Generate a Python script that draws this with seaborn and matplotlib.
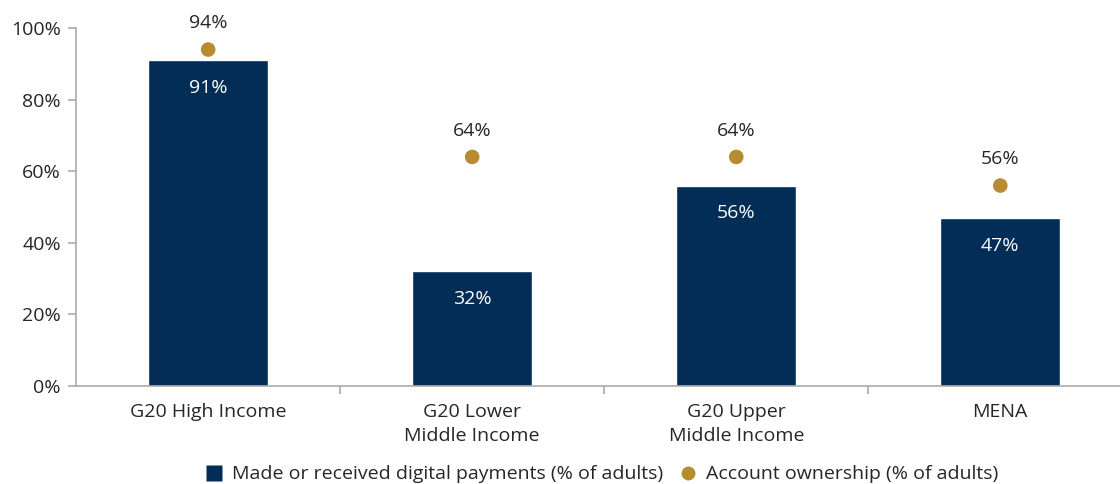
import pandas as pd
import matplotlib
matplotlib.use("Agg")
import matplotlib.pyplot as plt
import seaborn as sns
from matplotlib.lines import Line2D
from matplotlib.ticker import PercentFormatter

categories = ["G20 High Income", "G20 Lower\nMiddle Income", "G20 Upper\nMiddle Income", "MENA"]
digital_payments = [91, 32, 56, 47]
account_ownership = [94, 64, 64, 56]

NAVY = "#022d56"
GOLD = "#b78b2f"
GRID = "#aaaaaa"
TEXT = "#262626"
FS = 14

sns.set_style("white")
plt.rcParams["font.family"] = ["Open Sans", "DejaVu Sans"]

df = pd.DataFrame({
    "category": categories,
    "digital": digital_payments,
    "account": account_ownership,
})

fig = plt.figure(figsize=(11.2, 4.84), dpi=100)
ax = fig.add_axes([0.068, 0.2025, 0.943, 0.7395])

sns.barplot(data=df, x="category", y="digital", color=NAVY, width=0.455,
            saturation=1, ax=ax)
sns.scatterplot(data=df, x="category", y="account", color=GOLD, s=110,
                edgecolor="none", ax=ax, zorder=3)

for i, row in df.iterrows():
    ax.text(i, row["digital"] - 7.8, f'{row["digital"]}%', ha="center", va="center",
            color="white", fontsize=FS)
    ax.text(i, row["account"] + 7.3, f'{row["account"]}%', ha="center", va="center",
            color=TEXT, fontsize=FS)

ax.set_xlim(-0.5, 3.5)
ax.set_ylim(0, 100)
ax.set_yticks(range(0, 101, 20))
ax.yaxis.set_major_formatter(PercentFormatter(decimals=0))
ax.set_xlabel("")
ax.set_ylabel("")

for side in ["top", "right"]:
    ax.spines[side].set_visible(False)
for side in ["left", "bottom"]:
    ax.spines[side].set_color(GRID)
    ax.spines[side].set_linewidth(1.2)

ax.tick_params(axis="y", left=True, length=6, color=GRID, width=1.2,
               labelsize=FS, labelcolor=TEXT, pad=5)
ax.set_xticks(range(4))
ax.set_xticklabels(categories, linespacing=1.4)
ax.tick_params(axis="x", which="major", bottom=False, labelsize=FS,
               labelcolor=TEXT, pad=9)
ax.set_xticks([0.5, 1.5, 2.5], minor=True)
ax.tick_params(axis="x", which="minor", bottom=True, length=6, color=GRID, width=1.2)

handles = [
    Line2D([0], [0], marker="s", color="none", markerfacecolor=NAVY,
           markeredgecolor="none", markersize=12,
           label="Made or received digital payments (% of adults)"),
    Line2D([0], [0], marker="o", color="none", markerfacecolor=GOLD,
           markeredgecolor="none", markersize=10,
           label="Account ownership (% of adults)"),
]
fig.legend(handles=handles, loc="center", bbox_to_anchor=(0.537, 0.02),
           ncol=2, frameon=False, fontsize=FS, handlelength=1.0,
           handletextpad=0.4, columnspacing=0.8, labelcolor=TEXT)

fig.savefig("out.png", dpi=100)
